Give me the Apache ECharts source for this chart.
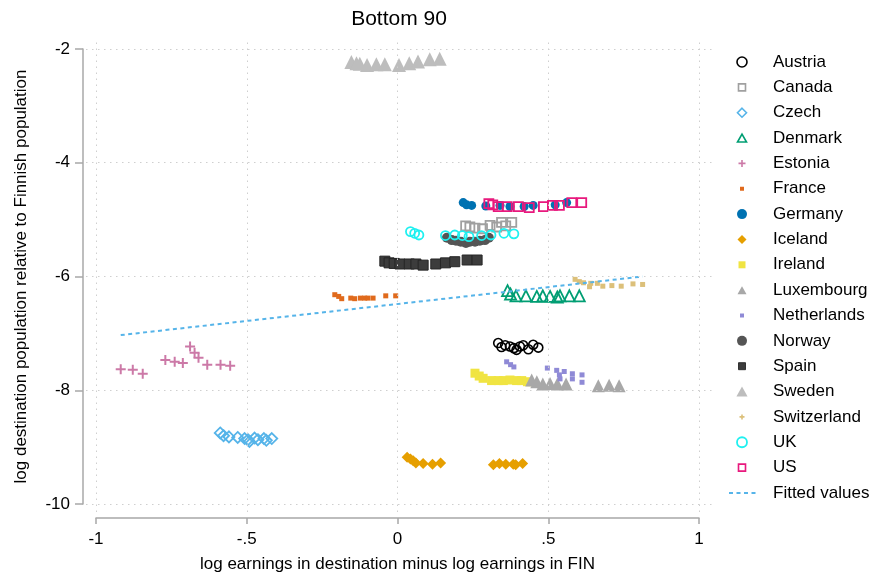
<!DOCTYPE html>
<html><head><meta charset="utf-8">
<script src="https://cdn.jsdelivr.net/npm/echarts@6/dist/echarts.min.js"></script>
<style>html,body{margin:0;padding:0;background:#fff}#c{width:869px;height:575px}</style>
</head><body><div id="c"></div>
<script>
// ---- data ----
const xTicks = [-1, -0.5, 0, 0.5, 1];
const xTickLabels = ['-1', '-.5', '0', '.5', '1'];
const yTicks = [-10, -8, -6, -4, -2];
const yTickLabels = ['-10', '-8', '-6', '-4', '-2'];
const countries = ['Austria','Canada','Czech','Denmark','Estonia','France','Germany','Iceland','Ireland','Luxembourg','Netherlands','Norway','Spain','Sweden','Switzerland','UK','US'];

const austria = [[0.334,-7.17],[0.345,-7.24],[0.357,-7.21],[0.373,-7.23],[0.386,-7.26],[0.395,-7.29],[0.406,-7.23],[0.417,-7.21],[0.434,-7.28],[0.450,-7.20],[0.467,-7.25]];
const canada = [[0.226,-5.11],[0.240,-5.13],[0.257,-5.15],[0.282,-5.16],[0.307,-5.10],[0.329,-5.13],[0.345,-5.05],[0.359,-5.11],[0.379,-5.05]];
const czech = [[-0.588,-8.75],[-0.577,-8.80],[-0.559,-8.82],[-0.530,-8.83],[-0.507,-8.85],[-0.496,-8.87],[-0.491,-8.90],[-0.474,-8.84],[-0.463,-8.87],[-0.443,-8.85],[-0.435,-8.88],[-0.417,-8.85]];
const denmark = [[0.365,-6.25],[0.375,-6.31],[0.393,-6.34],[0.426,-6.34],[0.462,-6.35],[0.482,-6.34],[0.506,-6.35],[0.530,-6.36],[0.539,-6.34],[0.570,-6.34],[0.603,-6.34]];
const estonia = [[-0.918,-7.63],[-0.878,-7.64],[-0.845,-7.71],[-0.770,-7.47],[-0.739,-7.50],[-0.712,-7.52],[-0.688,-7.23],[-0.673,-7.34],[-0.660,-7.43],[-0.631,-7.55],[-0.587,-7.55],[-0.555,-7.57]];
const france = [[-0.208,-6.32],[-0.195,-6.35],[-0.185,-6.39],[-0.155,-6.38],[-0.142,-6.39],[-0.123,-6.38],[-0.109,-6.38],[-0.098,-6.38],[-0.081,-6.38],[-0.039,-6.34],[-0.006,-6.34]];
const germany = [[0.218,-4.70],[0.229,-4.74],[0.246,-4.75],[0.293,-4.76],[0.340,-4.75],[0.373,-4.77],[0.420,-4.77],[0.450,-4.75],[0.523,-4.74],[0.561,-4.70]];
const iceland = [[0.032,-9.18],[0.043,-9.21],[0.052,-9.24],[0.061,-9.28],[0.085,-9.29],[0.116,-9.30],[0.143,-9.28],[0.318,-9.31],[0.338,-9.29],[0.359,-9.30],[0.384,-9.30],[0.392,-9.31],[0.415,-9.29]];
const ireland = [[0.257,-7.70],[0.271,-7.75],[0.284,-7.79],[0.312,-7.83],[0.334,-7.83],[0.351,-7.83],[0.373,-7.82],[0.395,-7.83],[0.412,-7.83],[0.431,-7.85]];
const luxembourg = [[0.445,-7.82],[0.462,-7.85],[0.482,-7.89],[0.506,-7.88],[0.530,-7.89],[0.559,-7.89],[0.666,-7.92],[0.702,-7.91],[0.735,-7.92]];
const netherlands = [[0.362,-7.50],[0.375,-7.55],[0.386,-7.59],[0.497,-7.61],[0.528,-7.65],[0.537,-7.73],[0.539,-7.80],[0.553,-7.67],[0.580,-7.71],[0.580,-7.80],[0.612,-7.73],[0.612,-7.86]];
const norway = [[0.164,-5.32],[0.180,-5.36],[0.194,-5.37],[0.210,-5.39],[0.227,-5.41],[0.240,-5.39],[0.257,-5.39],[0.273,-5.37],[0.290,-5.36],[0.303,-5.32]];
const spain = [[-0.042,-5.73],[-0.028,-5.76],[-0.011,-5.77],[0.008,-5.78],[0.039,-5.78],[0.061,-5.78],[0.085,-5.80],[0.127,-5.78],[0.159,-5.76],[0.190,-5.74],[0.231,-5.71],[0.264,-5.71]];
const sweden = [[-0.153,-2.23],[-0.136,-2.25],[-0.125,-2.26],[-0.101,-2.28],[-0.070,-2.27],[-0.042,-2.27],[0.005,-2.28],[0.039,-2.25],[0.068,-2.22],[0.107,-2.18],[0.140,-2.17]];
const switzerland = [[0.589,-6.05],[0.603,-6.09],[0.617,-6.11],[0.637,-6.18],[0.641,-6.12],[0.663,-6.12],[0.681,-6.17],[0.711,-6.16],[0.742,-6.17],[0.781,-6.13],[0.813,-6.14]];
const uk = [[0.043,-5.21],[0.057,-5.24],[0.071,-5.27],[0.159,-5.28],[0.190,-5.27],[0.215,-5.28],[0.237,-5.30],[0.279,-5.28],[0.310,-5.27],[0.353,-5.24],[0.386,-5.25]];
const us = [[0.303,-4.72],[0.316,-4.74],[0.334,-4.77],[0.364,-4.77],[0.401,-4.77],[0.437,-4.79],[0.484,-4.77],[0.514,-4.75],[0.537,-4.75],[0.578,-4.70],[0.611,-4.70]];
const fittedX = [-0.918, 0.813];
const fittedY = [-7.03, -6.00];

const seriesData = [austria,canada,czech,denmark,estonia,france,germany,iceland,ireland,luxembourg,netherlands,norway,spain,sweden,switzerland,uk,us];

// ---- styles ----
const NONE = 'rgba(0,0,0,0)';
const PLUS = 'path://M4,0H6V4H10V6H6V10H4V6H0V4H4Z';
// legend icons padded inside a 10x10 box so they stay small
const L_SMALLRECT = 'path://M0,0M10,10M3,3H7V7H3Z';
const L_SMALLSTAR = 'path://M0,0M10,10M2.5,4.2H7.5V5.8H2.5ZM4.2,2.5H5.8V7.5H4.2Z';
const L_RECT8 = 'path://M0,0M10,10M1.5,1.5H8.5V8.5H1.5Z';
const L_DIAM = 'path://M0,0M10,10M5,0.5L9.5,5L5,9.5L0.5,5Z';
const L_TRI = 'path://M0,0M10,10M5,1L9.5,9L0.5,9Z';
const L_TRI_BIG = 'path://M5,0L10,9L0,9Z';
const L_PLUS = 'path://M0,0M10,10M4.2,1.5H5.8V4.2H8.5V5.8H5.8V8.5H4.2V5.8H1.5V4.2H4.2Z';
const L_DASH = 'path://M0,0M28,10M1,4H5V6H1ZM8.5,4H12.5V6H8.5ZM16,4H20V6H16ZM23.5,4H27.5V6H23.5Z';
const styles = [
  {sym:'circle', size:9, fill:NONE, stroke:'#000000', bw:1.6, icon:'circle'},
  {sym:'rect', size:9, fill:NONE, stroke:'#a0a0a0', bw:1.8, icon:L_RECT8},
  {sym:'diamond', size:11, fill:NONE, stroke:'#56b4e9', bw:1.8, icon:L_DIAM},
  {sym:'triangle', size:11, fill:NONE, stroke:'#009e73', bw:1.8, icon:L_TRI},
  {sym:PLUS, size:10, fill:'#cc79a7', stroke:NONE, bw:0, icon:L_PLUS},
  {sym:'rect', size:5, fill:'#e06a1c', stroke:NONE, bw:0, icon:L_SMALLRECT},
  {sym:'circle', size:9, fill:'#0072b2', stroke:NONE, bw:0, icon:'circle'},
  {sym:'diamond', size:11, fill:'#e69f00', stroke:NONE, bw:0, icon:L_DIAM},
  {sym:'rect', size:9, fill:'#f0e442', stroke:NONE, bw:0, icon:L_RECT8},
  {sym:'triangle', size:13, fill:'#a8a8a8', stroke:NONE, bw:0, icon:L_TRI},
  {sym:'rect', size:5, fill:'#8f8ad6', stroke:NONE, bw:0, icon:L_SMALLRECT},
  {sym:'circle', size:10, fill:'#555555', stroke:NONE, bw:0, icon:'circle'},
  {sym:'rect', size:10, fill:'#3c3c3c', stroke:'#262626', bw:1, icon:L_RECT8},
  {sym:'triangle', size:14, fill:'#bdbdbd', stroke:NONE, bw:0, icon:L_TRI_BIG},
  {sym:'rect', size:5, fill:'#dcc07a', stroke:NONE, bw:0, icon:L_SMALLSTAR},
  {sym:'circle', size:9, fill:NONE, stroke:'#1ff0f0', bw:1.8, icon:'circle'},
  {sym:'rect', size:9, fill:NONE, stroke:'#e8197d', bw:1.8, icon:L_RECT8}
];
const FIT_COLOR = '#56b4e9';
const FONT = '"Liberation Sans", Arial, Helvetica, sans-serif';

// ---- layout ----
const A = {left:96, right:170, top:49, bottom:71};   // axis grid: tick range
const B = {left:86, right:157, top:38, bottom:63};   // plot region
const W = 869, H = 575;
const xMin = xTicks[0], xMax = xTicks[xTicks.length-1];
const yMin = yTicks[0], yMax = yTicks[yTicks.length-1];
const pxX = (W - A.left - A.right) / (xMax - xMin);
const pxY = (H - A.top - A.bottom) / (yMax - yMin);
const bxMin = xMin - (A.left - B.left) / pxX;
const bxMax = xMax + (A.right - B.right) / pxX;
const byMax = yMax + (A.top - B.top) / pxY;
const byMin = yMin - (A.bottom - B.bottom) / pxY;

const series = countries.map((name, i) => {
  const s = styles[i];
  return {
    name, type:'scatter', xAxisIndex:1, yAxisIndex:1,
    symbol:s.sym, symbolSize:s.size,
    itemStyle:{color:s.fill, borderColor:s.stroke, borderWidth:s.bw, opacity:1},
    emphasis:{disabled:true},
    data: seriesData[i]
  };
});
series.push({
  name:'Fitted values', type:'line', xAxisIndex:1, yAxisIndex:1,
  symbol:'none', showSymbol:false,
  lineStyle:{color:FIT_COLOR, width:2, type:[4,3.5]},
  itemStyle:{color:FIT_COLOR},
  emphasis:{disabled:true},
  data: fittedX.map((x, i) => [x, fittedY[i]])
});
series.unshift({
  name:'grid', type:'line', xAxisIndex:1, yAxisIndex:1, data:[], silent:true,
  markLine:{
    silent:true, symbol:['none','none'], label:{show:false}, animation:false,
    lineStyle:{color:'#cfcfcf', width:1, type:[1.5,4.5]},
    emphasis:{disabled:true},
    data:[...xTicks.map(v => ({xAxis:v})), ...yTicks.map(v => ({yAxis:v}))]
  }
});

const legendData = countries.map((name, i) => {
  const s = styles[i];
  const circ = s.icon === 'circle';
  return {name, icon: s.icon,
    itemStyle:{color:s.fill, borderColor:s.stroke, borderWidth: circ ? s.bw : s.bw * 0.9}};
});
legendData.push({name:'Fitted values', icon:L_DASH, itemStyle:{color:FIT_COLOR, borderWidth:0}});

const chart = echarts.init(document.getElementById('c'), null, {renderer:'canvas'});
chart.setOption({
  animation:false,
  backgroundColor:'#ffffff',
  textStyle:{fontFamily:FONT},
  title:{text:'Bottom 90', left:(B.left + W - B.right)/2, textAlign:'center', top:9, padding:0,
    textStyle:{fontFamily:FONT, fontSize:21, fontWeight:'normal', color:'#000'}},
  legend:{
    orient:'vertical', left:728, top:52, padding:0,
    itemWidth:28, itemHeight:10, itemGap:5.35,
    selectedMode:false, symbolKeepAspect:true,
    textStyle:{fontFamily:FONT, fontSize:17, color:'#000', lineHeight:20, padding:[0,0,0,12]},
    data:legendData
  },
  grid:[
    {left:A.left, right:A.right, top:A.top, bottom:A.bottom, containLabel:false, outerBoundsMode:'none'},
    {left:B.left, right:B.right, top:B.top, bottom:B.bottom, containLabel:false, outerBoundsMode:'none'}
  ],
  xAxis:[
    {type:'value', gridIndex:0, min:xMin, max:xMax, interval:0.5, offset:14,
     name:'log earnings in destination minus log earnings in FIN', nameLocation:'middle', nameGap:38,
     nameTextStyle:{fontFamily:FONT, fontSize:17, color:'#000'},
     axisLine:{show:true, onZero:false, lineStyle:{color:'#a8a8a8', width:1.5}},
     axisTick:{show:true, length:6, lineStyle:{color:'#a8a8a8', width:1.5}},
     axisLabel:{fontFamily:FONT, fontSize:17, color:'#000', margin:13,
       formatter:v => { const k = xTicks.findIndex(t => Math.abs(t - v) < 1e-9); return k >= 0 ? xTickLabels[k] : ''; }},
     splitLine:{show:false}},
    {type:'value', gridIndex:1, min:bxMin, max:bxMax, show:false, splitLine:{show:false}}
  ],
  yAxis:[
    {type:'value', gridIndex:0, min:yMin, max:yMax, interval:2, offset:13,
     name:'log destination population relative to Finnish population', nameLocation:'middle', nameGap:53,
     nameTextStyle:{fontFamily:FONT, fontSize:17, color:'#000'},
     axisLine:{show:true, onZero:false, lineStyle:{color:'#a8a8a8', width:1.5}},
     axisTick:{show:true, length:8, lineStyle:{color:'#a8a8a8', width:1.5}},
     axisLabel:{fontFamily:FONT, fontSize:17, color:'#000', margin:13,
       formatter:v => { const k = yTicks.findIndex(t => Math.abs(t - v) < 1e-9); return k >= 0 ? yTickLabels[k] : ''; }},
     splitLine:{show:false}},
    {type:'value', gridIndex:1, min:byMin, max:byMax, show:false, splitLine:{show:false}}
  ],
  series
});
</script>
</body></html>
